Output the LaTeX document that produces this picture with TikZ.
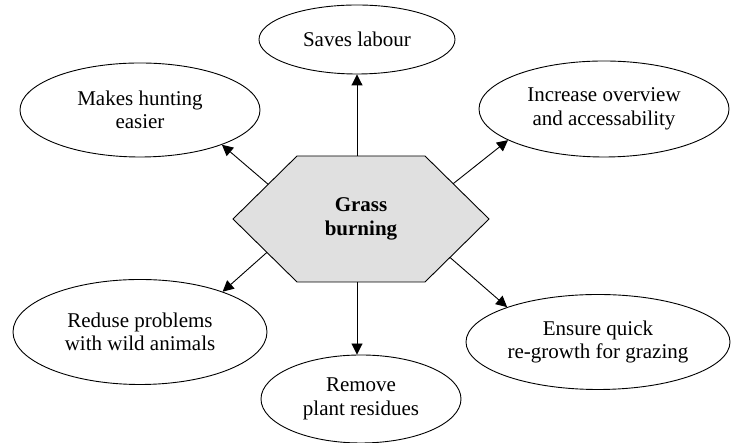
\documentclass[tikz,border=0pt]{standalone}
\usepackage{fontspec}
\setmainfont{Liberation Serif}
\usetikzlibrary{shapes.geometric,arrows.meta,calc}
\definecolor{hexfill}{RGB}{224,224,224}
\begin{document}
\begin{tikzpicture}[x=1pt,y=1pt,
  bubble/.style={ellipse,draw=black,line width=0.9pt,inner sep=0pt,align=center,font=\fontsize{21}{23.5}\selectfont},
  conn/.style={line width=0.9pt,-{Triangle[length=11pt,width=11pt]}},
  hexshape/.style={draw=black,line width=0.9pt,fill=hexfill,line join=miter}]
\useasboundingbox (0,0) rectangle (731,443);
% hexagon
\coordinate (L) at (233,224);
\coordinate (TL) at (297,287);
\coordinate (TR) at (425,287);
\coordinate (R) at (489,224);
\coordinate (BR) at (425,161);
\coordinate (BL) at (297,161);
\draw[hexshape] (L) -- (TL) -- (TR) -- (R) -- (BR) -- (BL) -- cycle;
\node[font=\bfseries\fontsize{21}{24.3}\selectfont, align=center] (hex) at (361,224) {Grass\\burning};
% ellipses
\node[bubble,minimum width=196pt,minimum height=69pt] (sl) at (357,403.5) {Saves labour};
\node[bubble,minimum width=240pt,minimum height=94pt] (mh) at (140,333) {Makes hunting\\easier};
\node[bubble,minimum width=250pt,minimum height=96pt] (io) at (604,334) {Increase overview\\and accessability};
\node[bubble,minimum width=254pt,minimum height=105pt] (rp) at (140,111) {Reduse problems\\with wild animals};
\node[bubble,minimum width=200pt,minimum height=88pt] (rm) at (361,44) {Remove\\plant residues};
\node[bubble,minimum width=264pt,minimum height=95pt] (eq) at (598,101) {Ensure quick\\re-growth for grazing};
% connector start points on the hexagon
\coordinate (sU) at (357,287);
\coordinate (sUL) at ($(L)!0.55!(TL)$);
\coordinate (sUR) at ($(R)!0.56!(TR)$);
\coordinate (sLL) at ($(L)!0.53!(BL)$);
\coordinate (sD) at (357,161);
\coordinate (sLR) at ($(R)!0.61!(BR)$);
\draw[conn] (sU) -- (sl.south);
\draw[conn] (sUL) -- (mh.-23);
\draw[conn] (sUR) -- (io.198);
\draw[conn] (sLL) -- (rp.26);
\draw[conn] (sD) -- (sD |- rm.north);
\draw[conn] (sLR) -- (eq.159);
\end{tikzpicture}
\end{document}
